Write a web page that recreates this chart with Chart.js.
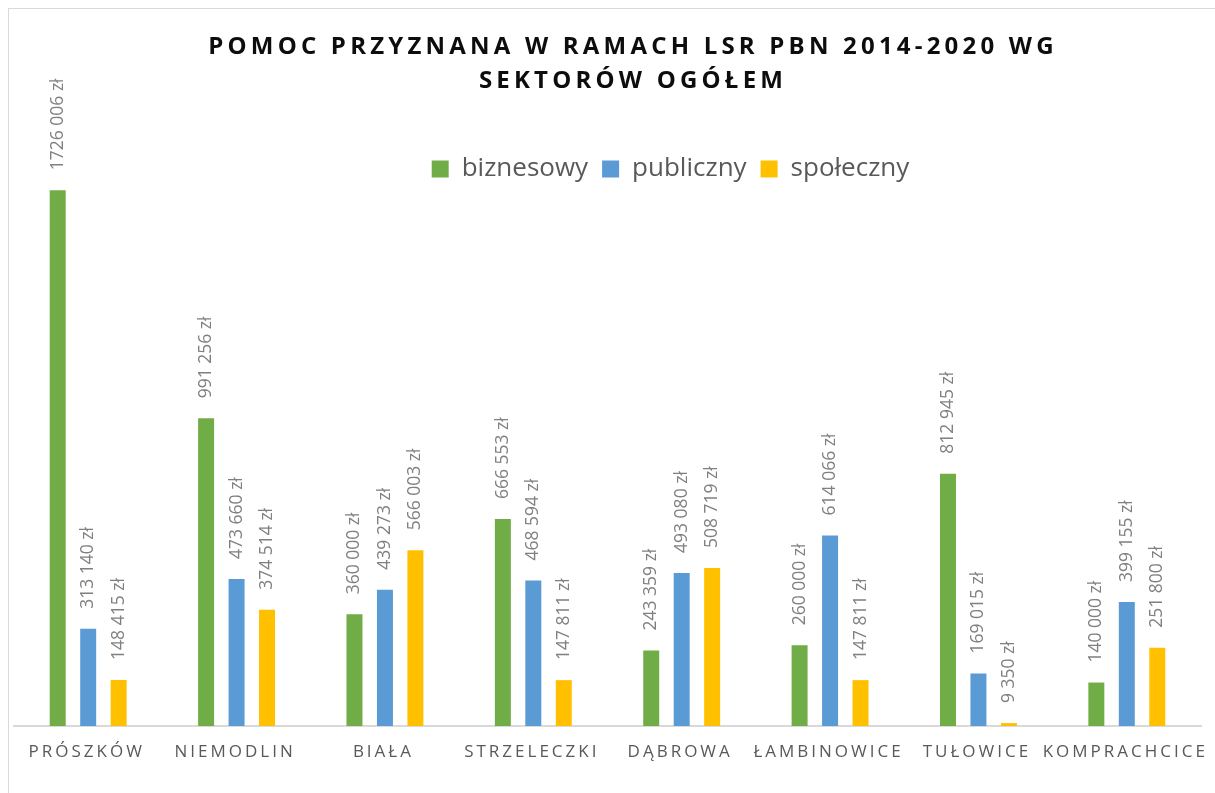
<!DOCTYPE html>
<html lang="pl">
<head>
<meta charset="utf-8">
<title>Pomoc przyznana w ramach LSR PBN 2014-2020</title>
<script src="https://cdn.jsdelivr.net/npm/chart.js@4.4.1/dist/chart.umd.min.js"></script>
<style>
  html, body { margin: 0; padding: 0; background: #fff; }
  #wrap { width: 1215px; height: 793px; }
</style>
</head>
<body>
<div id="wrap"><canvas id="chart" width="1215" height="793"></canvas></div>
<script>
const titleLines = ['POMOC PRZYZNANA W RAMACH LSR PBN 2014-2020 WG', 'SEKTORÓW OGÓŁEM'];
const gminy = ['PRÓSZKÓW', 'NIEMODLIN', 'BIAŁA', 'STRZELECZKI', 'DĄBROWA', 'ŁAMBINOWICE', 'TUŁOWICE', 'KOMPRACHCICE'];
const biznesowy = [1726006, 991256, 360000, 666553, 243359, 260000, 812945, 140000];
const publiczny = [313140, 473660, 439273, 468594, 493080, 614066, 169015, 399155];
const spoleczny = [148415, 374514, 566003, 147811, 508719, 147811, 9350, 251800];

const FONT = "'Open Sans', 'DejaVu Sans', sans-serif";

// format like the source: "1726 006 zł", "9 350 zł"
function formatZl(v) {
  const s = String(v);
  return s.slice(0, -3) + ' ' + s.slice(-3) + ' zł';
}

const extras = {
  id: 'extras',
  afterLayout(chart) {
    // legend sits right of centre (and a bit lower) in the original
    chart.legend.left += 63;
    chart.legend.right += 63;
    chart.legend.top += 3;
    chart.legend.bottom += 3;
  },
  afterDatasetsDraw(chart) {
    const ctx = chart.ctx;
    ctx.save();
    ctx.font = `17.5px ${FONT}`;
    ctx.fillStyle = '#808080';
    ctx.textAlign = 'left';
    ctx.textBaseline = 'middle';
    chart.data.datasets.forEach((ds, di) => {
      chart.getDatasetMeta(di).data.forEach((bar, i) => {
        ctx.save();
        ctx.translate(bar.x, bar.y - 20);
        ctx.rotate(-Math.PI / 2);
        ctx.fillText(formatZl(ds.data[i]), 0, 0);
        ctx.restore();
      });
    });
    ctx.restore();
  },
  afterDraw(chart) {
    const ctx = chart.ctx;
    const x = chart.scales.x;
    ctx.save();
    // frame
    ctx.strokeStyle = '#d9d9d9';
    ctx.lineWidth = 1;
    ctx.strokeRect(8.5, 8.5, 1220, 800);

    // category labels
    ctx.font = `17px ${FONT}`;
    ctx.letterSpacing = '3px';
    ctx.fillStyle = '#595959';
    ctx.textAlign = 'center';
    ctx.textBaseline = 'middle';
    gminy.forEach((g, i) => {
      ctx.fillText(g, x.getPixelForValue(i) - 1.5, 752);
    });

    // title
    ctx.font = `bold 24px ${FONT}`;
    ctx.letterSpacing = '4.2px';
    ctx.fillStyle = '#0d0d0d';
    ctx.textBaseline = 'alphabetic';
    ctx.fillText(titleLines[0], 633, 54);
    ctx.fillText(titleLines[1], 633, 88);
    ctx.restore();
  }
};

new Chart(document.getElementById('chart'), {
  type: 'bar',
  data: {
    labels: gminy,
    datasets: [
      { label: 'biznesowy', data: biznesowy, backgroundColor: '#70ad47' },
      { label: 'publiczny', data: publiczny, backgroundColor: '#5b9bd5' },
      { label: 'społeczny', data: spoleczny, backgroundColor: '#ffc000' },
    ],
  },
  options: {
    responsive: false,
    animation: false,
    devicePixelRatio: 1,
    layout: { padding: { top: 139, left: 14, right: 14, bottom: 0 } },
    datasets: {
      bar: { categoryPercentage: 0.616, barPercentage: 0.525 },
    },
    plugins: {
      title: { display: false },
      tooltip: { enabled: false },
      legend: {
        position: 'top',
        align: 'center',
        labels: {
          boxWidth: 17,
          boxHeight: 17,
          padding: 14,
          color: '#595959',
          font: { family: FONT, size: 26 },
        },
      },
    },
    scales: {
      x: {
        grid: { display: false },
        border: { color: '#d9d9d9', width: 2 },
        ticks: { display: false },
        afterFit: (scale) => { scale.height = 67; },
      },
      y: {
        display: false,
        min: 0,
        max: 1730000,
      },
    },
  },
  plugins: [extras],
});
</script>
</body>
</html>
